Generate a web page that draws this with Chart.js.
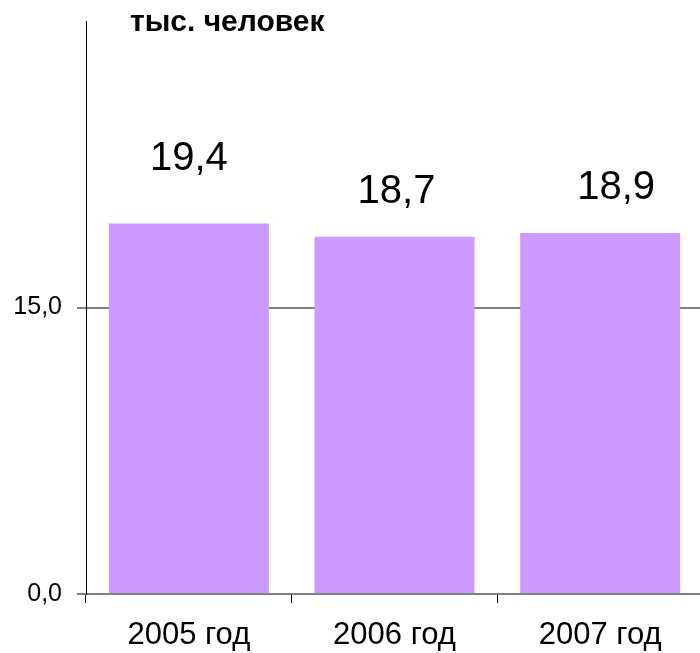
<!DOCTYPE html>
<html>
<head>
<meta charset="utf-8">
<script src="https://cdn.jsdelivr.net/npm/chart.js@4.4.1/dist/chart.umd.min.js"></script>
<style>
  html, body { margin: 0; padding: 0; background: #fff; overflow: hidden; }
  #wrap { width: 706px; height: 653px; }
</style>
</head>
<body>
<div id="wrap"><canvas id="c" width="706" height="653"></canvas></div>
<script>
// ---- data ----
const categories = ['2005 год', '2006 год', '2007 год'];
const values = [19.4, 18.7, 18.9];
const valueLabels = ['19,4', '18,7', '18,9'];
const yTicks = [0, 15, 30];
const yTitle = 'тыс. человек';

// label nudges (style only, in px)
const labelDx = [0, 2, 16];
const labelDy = [53, 34, 34];

const FONT = '"Liberation Sans", Arial, sans-serif';

const valueLabelPlugin = {
  id: 'valueLabels',
  afterDatasetsDraw(chart) {
    const ctx = chart.ctx;
    const meta = chart.getDatasetMeta(0);
    ctx.save();
    ctx.font = '40px ' + FONT;
    ctx.fillStyle = '#000';
    ctx.textAlign = 'center';
    ctx.textBaseline = 'alphabetic';
    meta.data.forEach((bar, i) => {
      ctx.fillText(valueLabels[i], bar.x + labelDx[i], bar.y - labelDy[i]);
    });
    ctx.restore();
  }
};

const titlePlugin = {
  id: 'unitTitle',
  afterDraw(chart) {
    const ctx = chart.ctx;
    ctx.save();
    ctx.font = 'bold 30px ' + FONT;
    ctx.fillStyle = '#000';
    ctx.textAlign = 'left';
    ctx.textBaseline = 'alphabetic';
    ctx.fillText(yTitle, chart.chartArea.left + 44, 31);
    ctx.restore();
  }
};

new Chart(document.getElementById('c'), {
  type: 'bar',
  data: {
    labels: categories,
    datasets: [{
      data: values,
      backgroundColor: '#CC99FF',
      borderWidth: 0,
      categoryPercentage: 1.0,
      barPercentage: 0.778
    }]
  },
  options: {
    responsive: false,
    animation: false,
    devicePixelRatio: 1,
    layout: { padding: { top: 21, right: 3, left: 0, bottom: 0 } },
    plugins: {
      legend: { display: false },
      tooltip: { enabled: false },
      title: { display: false }
    },
    scales: {
      x: {
        grid: {
          offset: true,
          drawOnChartArea: false,
          drawTicks: true,
          tickLength: 9,
          tickColor: '#000',
          color: '#000'
        },
        border: { display: true, color: '#808080', width: 2 },
        ticks: {
          color: '#000',
          font: { family: FONT, size: 31 },
          padding: 14,
          maxRotation: 0
        },
        afterFit(s) { s.height = 59; s.paddingLeft = 0; s.paddingRight = 0; }
      },
      y: {
        min: 0,
        max: 30,
        afterBuildTicks(s) { s.ticks = yTicks.map(v => ({ value: v })); },
        grid: {
          color: (c) => (c.tick && c.tick.value === 30) ? 'rgba(0,0,0,0)' : '#808080',
          lineWidth: 2,
          drawTicks: true,
          tickLength: 9,
          tickColor: (c) => (c.tick && c.tick.value === 30) ? 'rgba(0,0,0,0)' : '#808080'
        },
        border: { display: true, color: '#000', width: 1 },
        ticks: {
          color: '#000',
          font: { family: FONT, size: 25 },
          padding: 15,
          callback: (v) => v === 30 ? '' : v.toFixed(1).replace('.', ',')
        },
        afterFit(s) { s.width = 86; s.paddingTop = 0; s.paddingBottom = 0; }
      }
    }
  },
  plugins: [valueLabelPlugin, titlePlugin]
});
</script>
</body>
</html>
